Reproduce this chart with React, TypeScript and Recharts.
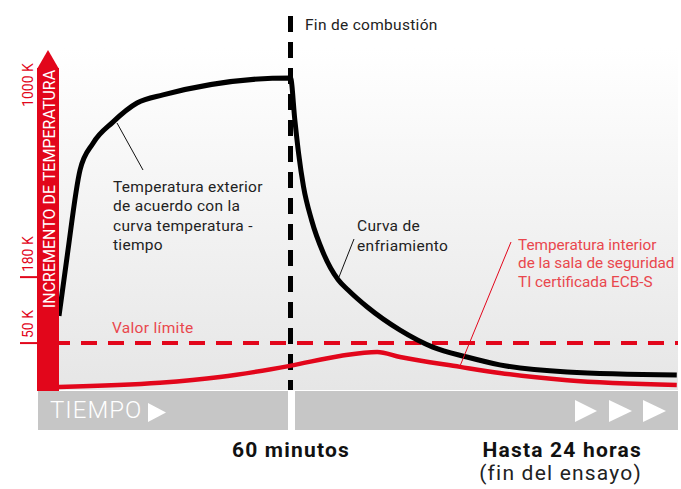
import { ComposedChart, Line, XAxis, YAxis, ReferenceLine, ReferenceArea } from "recharts";

// time axis is abstract: 0 = start of test, 37.4 = 60 min (end of burn), 100 = 24 h
const exteriorTime = [0, 1.3, 3.4, 5.5, 8.7, 12.6, 16.8, 37.4, 38.1, 38.7, 39.5, 40.8, 42.7, 45.1, 46.7, 49.8, 55.1, 60.4, 65.9, 71.2, 82.1, 99.8];
const exteriorTemp = [21.8, 39.1, 64.7, 72.6, 78.8, 84.4, 86.8, 91.8, 79.4, 69.7, 59.8, 50.0, 40.3, 32.4, 29.4, 24.4, 17.6, 12.6, 9.7, 7.4, 5.3, 4.4];

const interiorTime = [0, 16.3, 26, 37.3, 45.4, 51.4, 55.1, 64.8, 71.2, 82.1, 99.8];
const interiorTemp = [0.9, 2.1, 3.8, 7.1, 10.0, 11.2, 9.7, 6.8, 5.0, 2.9, 1.5];

const tempTicks = [13.8, 33.2, 81.8];
const tempTickLabels = ["50 K", "180 K", "1000 K"];
const tempTickMarks = [true, true, false];

const limitValue = 13.8;
const burnEnd = 37.4;

const exteriorData = exteriorTime.map((t, i) => ({ t, v: exteriorTemp[i] }));
const interiorData = interiorTime.map((t, i) => ({ t, v: interiorTemp[i] }));

const RED = "#e2061b";
const RED_TEXT = "#e9474d";
const FONT = "Roboto, 'DejaVu Sans', sans-serif";

function TempTick(props: any) {
  const { y, index } = props;
  return (
    <g>
      <text
        x={33}
        y={y - 5}
        transform={`rotate(-90, 33, ${y - 5})`}
        fill={RED}
        fontSize={14}
        textAnchor="start"
      >
        {tempTickLabels[index]}
      </text>
      {tempTickMarks[index] && <line x1={20} x2={37} y1={y} y2={y} stroke={RED} strokeWidth={2} />}
    </g>
  );
}

function Overlay() {
  return (
    <svg width={681} height={489} style={{ position: "absolute", left: 0, top: 0, pointerEvents: "none", fontFamily: FONT }}>
      {/* temperature arrow */}
      <rect x={37} y={68} width={22} height={323} fill={RED} />
      <polygon points="48,50 37,69 59,69" fill={RED} />
      <text x={55} y={189} transform="rotate(-90, 55, 189)" textAnchor="middle" fill="#fff" fontSize={16}>
        INCREMENTO DE TEMPERATURA
      </text>

      {/* time bar */}
      <rect x={38} y={391} width={250} height={39} fill="#c6c6c6" />
      <rect x={295} y={391} width={383} height={39} fill="#c6c6c6" />
      <text x={50} y={418} fill="#fff" fontSize={24} fontWeight={300} letterSpacing={1}>TIEMPO</text>
      <polygon points="148,403 148,422 166,412.5" fill="#fff" />
      <polygon points="575,400 575,422 597,411" fill="#fff" />
      <polygon points="609,400 609,422 632,411" fill="#fff" />
      <polygon points="643,400 643,422 666,411" fill="#fff" />

      <text x={291} y={457} textAnchor="middle" fontSize={21} fontWeight={700} letterSpacing={1.2} fill="#111">60 minutos</text>
      <text x={642} y={457} textAnchor="end" fontSize={21} fontWeight={700} letterSpacing={1.2} fill="#111">Hasta 24 horas</text>
      <text x={642} y={480} textAnchor="end" fontSize={21} letterSpacing={1.2} fill="#222">(fin del ensayo)</text>

      {/* annotations */}
      <text x={305} y={30} fontSize={15.5} fill="#222" letterSpacing={0.3}>Fin de combustión</text>

      <line x1={117} y1={123} x2={143} y2={170} stroke="#111" strokeWidth={1} />
      <text fontSize={15.5} fill="#222" letterSpacing={0.3}>
        <tspan x={113} y={191.5}>Temperatura exterior</tspan>
        <tspan x={113} y={211}>de acuerdo con la</tspan>
        <tspan x={113} y={230.5}>curva temperatura -</tspan>
        <tspan x={113} y={250}>tiempo</tspan>
      </text>

      <line x1={354} y1={239} x2={339} y2={277} stroke="#111" strokeWidth={1} />
      <text fontSize={15.5} fill="#222" letterSpacing={0.3}>
        <tspan x={357} y={230.5}>Curva de</tspan>
        <tspan x={357} y={250.5}>enfriamiento</tspan>
      </text>

      <line x1={511} y1={242} x2={460} y2={366} stroke={RED} strokeWidth={1} />
      <text fontSize={15.3} fill={RED_TEXT}>
        <tspan x={518} y={249.5}>Temperatura interior</tspan>
        <tspan x={518} y={268}>de la sala de seguridad</tspan>
        <tspan x={518} y={286.5}>TI certificada ECB-S</tspan>
      </text>

      <text x={112} y={333} fontSize={15.5} fill={RED_TEXT} letterSpacing={0.3}>Valor límite</text>
    </svg>
  );
}

export default function App() {
  return (
    <div style={{ position: "absolute", left: 0, top: 0, width: 681, height: 489, background: "#fff", fontFamily: FONT }}>
      <ComposedChart width={681} height={489} margin={{ top: 16, right: 3, bottom: 99, left: 0 }}>
        <defs>
          <linearGradient id="plotBg" x1="0" y1="0" x2="0" y2="1">
            <stop offset="0%" stopColor="#ffffff" />
            <stop offset="100%" stopColor="#e6e6e6" />
          </linearGradient>
        </defs>
        <XAxis type="number" dataKey="t" domain={[0, 100]} hide allowDuplicatedCategory={false} />
        <YAxis
          type="number"
          domain={[0, 110]}
          ticks={tempTicks}
          tick={<TempTick />}
          axisLine={false}
          tickLine={false}
          width={59}
          interval={0}
        />
        <ReferenceArea x1={0} x2={100} y1={0} y2={100.6} fill="url(#plotBg)" fillOpacity={1} stroke="none" />
        <ReferenceLine
          segment={[{ x: burnEnd, y: 110 }, { x: burnEnd, y: 0 }]}
          stroke="#000"
          strokeWidth={5}
          strokeDasharray="16 10"
        />
        <ReferenceLine y={limitValue} stroke={RED} strokeWidth={4} strokeDasharray="16 11" strokeDashoffset={5} />
        <Line
          data={interiorData}
          dataKey="v"
          type="monotone"
          stroke={RED}
          strokeWidth={4.5}
          dot={false}
          activeDot={false}
          isAnimationActive={false}
        />
        <Line
          data={exteriorData}
          dataKey="v"
          type="monotone"
          stroke="#000"
          strokeWidth={5}
          dot={false}
          activeDot={false}
          isAnimationActive={false}
        />
      </ComposedChart>
      <Overlay />
    </div>
  );
}
